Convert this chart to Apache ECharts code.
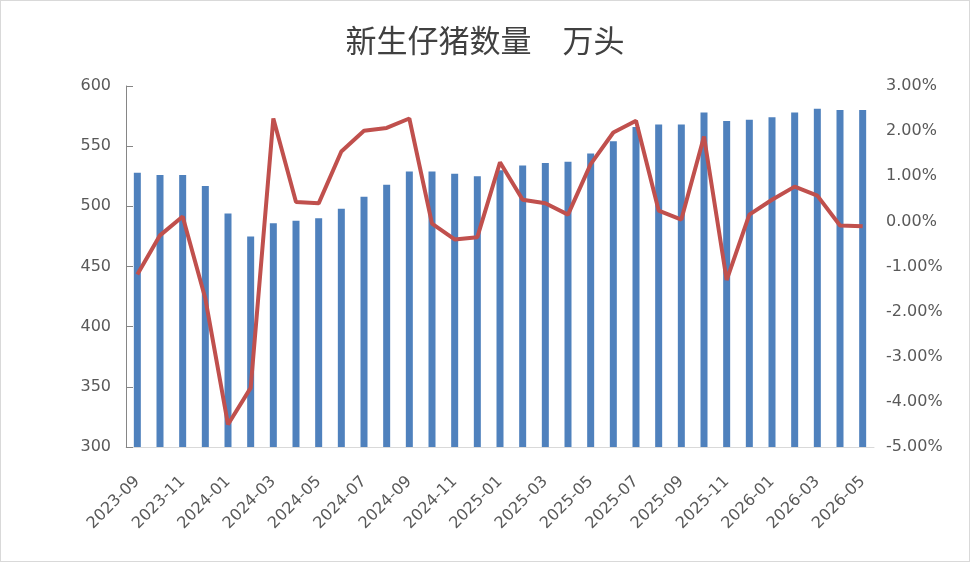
<!DOCTYPE html>
<html>
<head>
<meta charset="utf-8">
<script src="https://cdn.jsdelivr.net/npm/echarts@6/dist/echarts.min.js"></script>
<style>
  html, body { margin: 0; padding: 0; background: #fff; }
  #chart { width: 968px; height: 560px; border: 1px solid #d9d9d9; }
</style>
</head>
<body>
<div id="chart"></div>
<script>
const months = [
  '2023-09', '2023-10', '2023-11', '2023-12',
  '2024-01', '2024-02', '2024-03', '2024-04', '2024-05', '2024-06',
  '2024-07', '2024-08', '2024-09', '2024-10', '2024-11', '2024-12',
  '2025-01', '2025-02', '2025-03', '2025-04', '2025-05', '2025-06',
  '2025-07', '2025-08', '2025-09', '2025-10', '2025-11', '2025-12',
  '2026-01', '2026-02', '2026-03', '2026-04', '2026-05',
];

// 新生仔猪数量（万头）
const piglets = [
  528, 526, 526, 517, 494, 475, 486, 488, 490, 498, 508, 518,
  529, 529, 527, 525, 530, 534, 536, 537, 544, 554, 566, 568,
  568, 578, 571, 572, 574, 578, 581, 580, 580,
];

// 环比（%）
const momChange = [
  -1.18, -0.31, 0.11, -1.71, -4.50, -3.69, 2.28, 0.43, 0.40, 1.55, 2.01, 2.07,
  2.28, -0.05, -0.40, -0.35, 1.31, 0.48, 0.40, 0.15, 1.27, 1.97, 2.23, 0.24,
  0.04, 1.88, -1.30, 0.15, 0.48, 0.77, 0.57, -0.09, -0.11,
];

const labelColor = '#595959';
const labelFont = 'DejaVu Sans';
const chart = echarts.init(document.getElementById('chart'));

const option = {
  animation: false,
  title: {
    text: '新生仔猪数量　万头',
    left: 'center',
    top: 19,
    textStyle: {
      fontFamily: 'Noto Sans CJK SC',
      fontWeight: 'normal',
      fontSize: 31,
      color: '#404040',
    },
  },
  grid: { left: 125, right: 95, top: 85, bottom: 114 },
  xAxis: {
    type: 'category',
    data: months,
    axisLine: { onZero: false, lineStyle: { color: '#d9d9d9', width: 1 } },
    axisTick: { show: false },
    axisLabel: {
      interval: 1,
      rotate: 45,
      color: labelColor,
      fontSize: 16,
      fontFamily: labelFont,
      margin: 32,
    },
  },
  yAxis: [
    {
      type: 'value',
      min: 300,
      max: 600,
      interval: 50,
      splitLine: { show: false },
      axisLine: { show: true, lineStyle: { color: '#868686' } },
      axisTick: { show: true, inside: true, length: 7, lineStyle: { color: '#868686' } },
      axisLabel: { color: labelColor, fontSize: 16, margin: 15, fontFamily: labelFont },
    },
    {
      type: 'value',
      min: -5,
      max: 3,
      interval: 1,
      splitLine: { show: false },
      axisLine: { show: false },
      axisTick: { show: false },
      axisLabel: {
        color: labelColor,
        fontSize: 16,
        margin: 12,
        fontFamily: labelFont,
        formatter: (v) => v.toFixed(2) + '%',
      },
    },
  ],
  series: [
    {
      name: '新生仔猪数量',
      type: 'bar',
      data: piglets,
      barWidth: 7,
      itemStyle: { color: '#4F81BD' },
    },
    {
      name: '环比',
      type: 'line',
      yAxisIndex: 1,
      data: momChange,
      symbol: 'none',
      lineStyle: { color: '#C0504D', width: 4 },
      itemStyle: { color: '#C0504D' },
    },
  ],
};

chart.setOption(option);
</script>
</body>
</html>
